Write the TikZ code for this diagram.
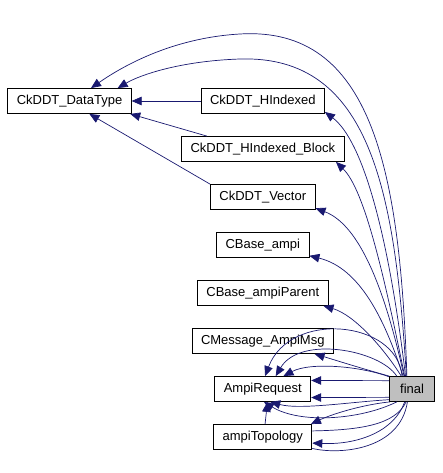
\documentclass[tikz,border=0pt]{standalone}
\usepackage{fontspec}
\setsansfont{Liberation Sans}
\usetikzlibrary{arrows.meta, positioning}
\definecolor{edgeBlue}{RGB}{25,25,112}
\definecolor{finalGray}{RGB}{191,191,191}
\tikzset{
    font=\sffamily\fontsize{13}{15}\selectfont,
    % Shapes
    cls/.style={rectangle, draw=black, line width=0.8pt, fill=white,
                minimum height=25pt, inner xsep=9pt, inner ysep=2pt},
    clsMain/.style={cls, fill=finalGray, minimum width=45pt},
    % Flow
    dep/.style={-{Triangle[length=10pt,width=8.5pt]}, draw=edgeBlue, line width=0.7pt},
    link/.style={draw=edgeBlue, line width=0.7pt}
}
\begin{document}
\begin{tikzpicture}[x=1pt, y=1pt, node distance=22.2pt and 69pt]
\useasboundingbox (0,0) rectangle (443,-473);

\node[cls] (dt) at (69.5,-101) {CkDDT\_DataType};
\node[cls, right=of dt] (hidx) {CkDDT\_HIndexed};
\node[cls, below=of hidx] (blk) {CkDDT\_HIndexed\_Block};
\node[cls, below=of blk] (vec) {CkDDT\_Vector};
\node[cls, below=of vec] (cba) {CBase\_ampi};
\node[cls, below=of cba] (cbp) {CBase\_ampiParent};
\node[cls, below=of cbp] (cmsg) {CMessage\_AmpiMsg};
\node[cls, below=of cmsg] (areq) {AmpiRequest};
\node[cls, below=of areq] (atopo) {ampiTopology};
\node[clsMain, right=78pt of areq] (fin) {final};

% base class links
\draw[dep] (hidx) -- (dt);
\draw[dep] (blk.167) -- (dt.-12);
\draw[dep] (vec.north west) -- (dt.-33);

% final to its members
\draw[dep] (fin.112) .. controls (400,-170) and (372,-26) .. (240,-34) .. controls (170,-38) and (120,-68) .. (dt.31);
\draw[dep] (fin.114) .. controls (395,-190) and (370,-55) .. (240,-59) .. controls (180,-61) and (140,-75) .. (dt.15);
\draw[dep] (fin.117) .. controls (388,-230) and (362,-140) .. (hidx.-10);
\draw[dep] (fin.120) .. controls (385,-280) and (365,-190) .. (blk.-10);
\draw[dep] (fin.122) .. controls (385,-290) and (360,-225) .. (vec.-12);
\draw[dep] (fin.125) .. controls (385,-320) and (360,-268) .. (cba.-13);
\draw[dep] (fin.130) .. controls (385,-350) and (355,-315) .. (cbp.-12);
\draw[dep] (fin.north west) .. controls (360,-368) and (335,-360) .. (cmsg.-14);

% AmpiRequest
\draw[dep] (fin.160) -- (areq.10);
\draw[dep] (fin.200) -- (areq.-10);
\draw[dep] (fin.128) .. controls (397,-320) and (290,-310) .. (areq.80);
\draw[dep] (fin.140) .. controls (380,-350) and (300,-335) .. (areq.45);
\draw[dep] (fin.152) .. controls (360,-366) and (310,-362) .. (areq.32);
\draw[dep] (fin.-155) .. controls (350,-402) and (300,-410) .. (areq.-60);
\draw[dep] (fin.-140) .. controls (360,-420) and (300,-424) .. (areq.-85);
\draw[dep] (atopo.80) -- (areq.-70);

% ampiTopology
\draw[dep] (fin.-150) .. controls (360,-405) and (330,-415) .. (atopo.15);
\draw[dep] (fin.-120) .. controls (395,-430) and (360,-445) .. (atopo.-7);
\draw[link] (atopo.7) .. controls (360,-430) and (395,-425) .. (fin.-115);
\draw[link] (atopo.-13) .. controls (340,-455) and (400,-450) .. (fin.-110);

\end{tikzpicture}
\end{document}
